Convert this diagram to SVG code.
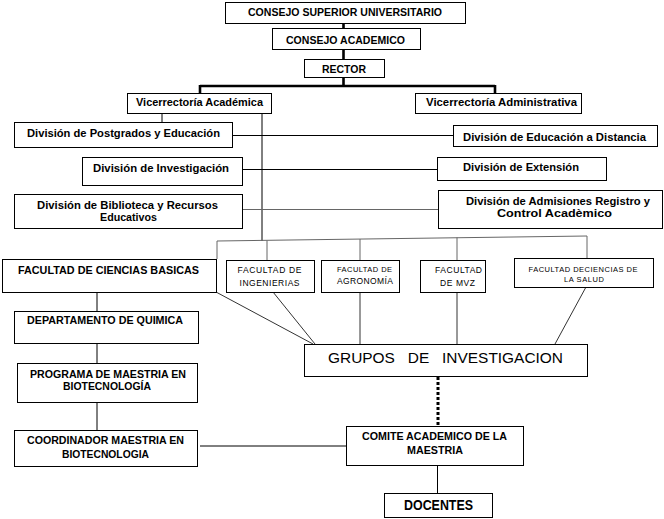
<svg xmlns="http://www.w3.org/2000/svg" width="664" height="519" viewBox="0 0 664 519">
<style>
rect{fill:#fff;stroke:#000;stroke-width:1}
text{font-family:"Liberation Sans",Arial,sans-serif;text-anchor:middle;fill:#000}
.b{font-weight:bold;font-size:11px}
.s{font-size:8.5px}
.xs{font-size:7.5px}
.thick{stroke:#000;stroke-width:2.6;fill:none}
.ln{stroke:#000;stroke-width:1;fill:none}
.gr{stroke:#666;stroke-width:1;fill:none}
.dk{stroke:#333;stroke-width:1;fill:none}
.dot{stroke:#000;stroke-width:3;stroke-dasharray:3 2;fill:none}
</style>
<rect x="0" y="0" width="664" height="519" style="fill:#fff;stroke:none"/>
<g id="connectors">
<path class="thick" d="M343.5 24V28M343.5 50V59M343.5 77V86M200 86H495M200 85V93M495 85V93"/>
<path class="ln" d="M162 113V122M262 113V241M232 135.5H453M242 169.5H437"/>
<path class="gr" d="M242 209.5H438"/>
<path class="gr" d="M217 259V241L587 236V258M267 240.5V260M360 239V260M457 237.5V260"/>
<path class="dk" d="M216 292L313 344M273 292L315 344M360 292V344M457 292V344M586 287L555 344"/>
<path class="ln" d="M97 292V311M97 343V363M97 402V430M200 446H346M437.5 465V493"/>
<path class="dot" d="M438 377V426"/>
</g>
<g id="consejo-superior"><rect x="225.5" y="2.5" width="240" height="21"/><text class="b" x="345" y="16" textLength="194" lengthAdjust="spacingAndGlyphs">CONSEJO SUPERIOR  UNIVERSITARIO</text></g>
<g id="consejo-academico"><rect x="272.5" y="28.5" width="148" height="21"/><text class="b" x="345.5" y="44" textLength="119" lengthAdjust="spacingAndGlyphs">CONSEJO  ACADEMICO</text></g>
<g id="rector"><rect x="304.5" y="59.5" width="80" height="18"/><text class="b" x="344" y="73" textLength="44" lengthAdjust="spacingAndGlyphs">RECTOR</text></g>
<g id="vic-academica"><rect x="127.5" y="93.5" width="144" height="20"/><text class="b" x="199.5" y="106" textLength="127" lengthAdjust="spacingAndGlyphs">Vicerrectoría Académica</text></g>
<g id="vic-administrativa"><rect x="415.5" y="93.5" width="166" height="20"/><text class="b" x="501.5" y="106" textLength="151" lengthAdjust="spacingAndGlyphs">Vicerrectoría Administrativa</text></g>
<g id="div-postgrados"><rect x="14.5" y="122.5" width="218" height="25"/><text class="b" x="123.5" y="137" textLength="193" lengthAdjust="spacingAndGlyphs">División de Postgrados y Educación</text></g>
<g id="div-investigacion"><rect x="82.5" y="157.5" width="160" height="28"/><text class="b" x="161" y="172" textLength="136" lengthAdjust="spacingAndGlyphs">División de Investigación</text></g>
<g id="div-biblioteca"><rect x="14.5" y="194.5" width="228" height="34"/><text class="b" x="127.5" y="209" textLength="181" lengthAdjust="spacingAndGlyphs">División de Biblioteca y Recursos</text><text class="b" x="128.5" y="221" textLength="57" lengthAdjust="spacingAndGlyphs">Educativos</text></g>
<g id="div-distancia"><rect x="453.5" y="125.5" width="204" height="21"/><text class="b" x="554.5" y="141" textLength="183" lengthAdjust="spacingAndGlyphs">División de Educación a Distancia</text></g>
<g id="div-extension"><rect x="437.5" y="157.5" width="169" height="23"/><text class="b" x="521" y="171" textLength="116" lengthAdjust="spacingAndGlyphs">División de Extensión</text></g>
<g id="div-admisiones"><rect x="438.5" y="190.5" width="224" height="38"/><text class="b" x="558" y="205" textLength="184" lengthAdjust="spacingAndGlyphs">División de Admisiones Registro y</text><text class="b" x="554.5" y="217" textLength="115" lengthAdjust="spacingAndGlyphs">Control Acadèmico</text></g>
<g id="fac-basicas"><rect x="2.5" y="259.5" width="214" height="33"/><text class="b" x="108.5" y="274" textLength="181" lengthAdjust="spacingAndGlyphs">FACULTAD DE  CIENCIAS BASICAS</text></g>
<g id="fac-ingenierias"><rect x="226.5" y="260.5" width="88" height="32"/><text class="s" x="269.5" y="273" textLength="64" lengthAdjust="spacing">FACULTAD  DE</text><text class="s" x="269.5" y="285.5" textLength="60" lengthAdjust="spacing">INGENIERIAS</text></g>
<g id="fac-agronomia"><rect x="321.5" y="260.5" width="78" height="32"/><text class="xs" x="364.5" y="272" textLength="55" lengthAdjust="spacing">FACULTAD DE</text><text class="s" x="365" y="284" textLength="56" lengthAdjust="spacing">AGRONOMÍA</text></g>
<g id="fac-mvz"><rect x="420.5" y="260.5" width="65" height="32"/><text class="s" x="458.5" y="273" textLength="47" lengthAdjust="spacing">FACULTAD</text><text class="s" x="457.5" y="286" textLength="35" lengthAdjust="spacing">DE MVZ</text></g>
<g id="fac-salud"><rect x="514.5" y="258.5" width="139" height="29"/><text class="xs" x="583" y="272" textLength="109" lengthAdjust="spacing">FACULTAD DECIENCIAS  DE</text><text class="xs" x="584" y="281.5" textLength="40" lengthAdjust="spacing">LA SALUD</text></g>
<g id="grupos"><rect x="304.5" y="344.5" width="283" height="32"/><text x="445.5" y="363" style="font-size:14px" xml:space="preserve" textLength="235" lengthAdjust="spacingAndGlyphs">GRUPOS   DE   INVESTIGACION</text></g>
<g id="departamento"><rect x="14.5" y="311.5" width="184" height="32"/><text class="b" x="105" y="324" textLength="156" lengthAdjust="spacingAndGlyphs">DEPARTAMENTO  DE  QUIMICA</text></g>
<g id="programa"><rect x="17.5" y="363.5" width="180" height="39"/><text class="b" x="108" y="378" textLength="156" lengthAdjust="spacingAndGlyphs">PROGRAMA DE  MAESTRIA EN</text><text class="b" x="107" y="390" textLength="88" lengthAdjust="spacingAndGlyphs">BIOTECNOLOGÍA</text></g>
<g id="coordinador"><rect x="14.5" y="430.5" width="183" height="36"/><text class="b" x="105.5" y="444" textLength="157" lengthAdjust="spacingAndGlyphs">COORDINADOR  MAESTRIA EN</text><text class="b" x="105.5" y="458" textLength="87" lengthAdjust="spacingAndGlyphs">BIOTECNOLOGIA</text></g>
<g id="comite"><rect x="346.5" y="426.5" width="177" height="39"/><text class="b" x="434.5" y="440" textLength="145" lengthAdjust="spacingAndGlyphs">COMITE ACADEMICO DE LA</text><text class="b" x="435" y="454" textLength="56" lengthAdjust="spacingAndGlyphs">MAESTRIA</text></g>
<g id="docentes"><rect x="384.5" y="493.5" width="108" height="24"/><text class="b" x="438.5" y="510" style="font-size:15px" textLength="69" lengthAdjust="spacingAndGlyphs">DOCENTES</text></g>
</svg>
